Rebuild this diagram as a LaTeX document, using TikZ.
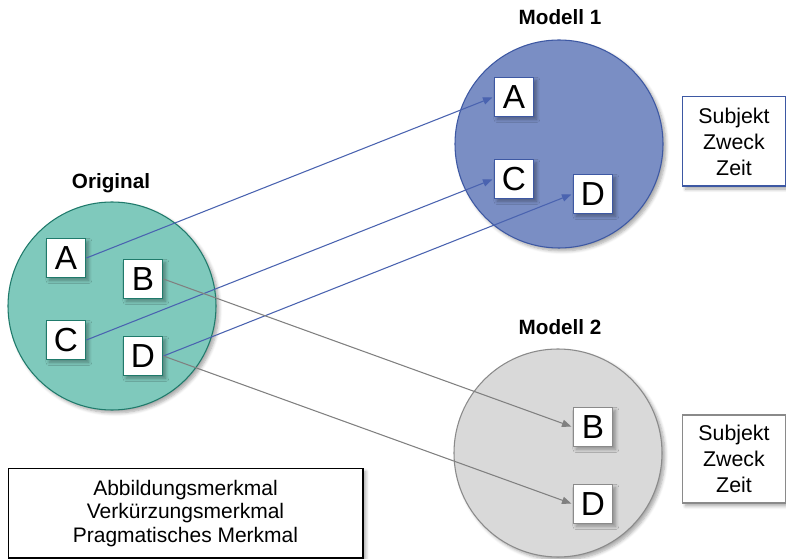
\documentclass[tikz,border=0pt]{standalone}
\usepackage{fontspec}
\setmainfont{Liberation Sans}
\usetikzlibrary{arrows.meta,shadows.blur}
\definecolor{tealfill}{HTML}{7FC9BC}
\definecolor{tealline}{HTML}{1F7A6B}
\definecolor{bluefill}{HTML}{7A8EC4}
\definecolor{blueline}{HTML}{3D58A3}
\definecolor{grayfill}{HTML}{D9D9D9}
\definecolor{grayline}{HTML}{8A8A8A}
\definecolor{bluearrow}{HTML}{4A63B0}
\definecolor{grayarrow}{HTML}{808080}
\tikzset{
  shade/.style={blur shadow={shadow xshift=2.2pt,shadow yshift=-2.2pt,shadow blur radius=2.5pt,shadow blur steps=6,shadow opacity=35}},
  world/.style={circle,minimum size=156pt,inner sep=0pt,line width=0.8pt,shade},
  letterbox/.style={draw=tealline,fill=white,line width=1.1pt,minimum width=29.5pt,minimum height=29pt,
    inner sep=0pt,font=\fontsize{25}{30}\selectfont,shade},
  title/.style={font=\fontsize{15.5}{18}\selectfont\bfseries},
  infobox/.style={draw,fill=white,line width=1pt,align=center,inner sep=0pt,shade},
  maparrow/.style={line width=0.8pt,shorten >=1pt,-{Triangle[length=7pt,width=5.5pt]}},
}
\begin{document}
\begin{tikzpicture}[x=0.75pt,y=-0.75pt]
\useasboundingbox (0,0) rectangle (786,559);

% the three worlds
\node[world,draw=tealline,fill=tealfill] (orig) at (112,306) {};
\node[world,draw=blueline,fill=bluefill] (mod1) at (559,144) {};
\node[world,draw=grayline,fill=grayfill] (mod2) at (558,453) {};

% titles
\node[title] (torig) at (111,183) {Original};
\node[title] (tmod1) at (560,17) {Modell 1};
\node[title] (tmod2) at (560,327) {Modell 2};

% elements of the original
\node[letterbox] (oA) at (66,258) {A};
\node[letterbox] (oB) at (143,279) {B};
\node[letterbox] (oC) at (66,340) {C};
\node[letterbox] (oD) at (143,356) {D};

% elements of model 1
\node[letterbox,draw=blueline] (m1A) at (514,97) {A};
\node[letterbox,draw=blueline] (m1C) at (514,179) {C};
\node[letterbox,draw=blueline] (m1D) at (593,194) {D};

% elements of model 2
\node[letterbox,draw=grayline] (m2B) at (593,427) {B};
\node[letterbox,draw=grayline] (m2D) at (593,504) {D};

% pragmatic attributes
\node[infobox,draw=blueline,minimum width=77pt,minimum height=67pt,
      font=\fontsize{16}{19.5}\selectfont] (prag1) at (734,141.5) {Subjekt\\Zweck\\Zeit};
\node[infobox,draw=grayline,minimum width=77pt,minimum height=66pt,
      font=\fontsize{16}{19.5}\selectfont] (prag2) at (734,459) {Subjekt\\Zweck\\Zeit};

% model attributes
\node[infobox,draw=black,minimum width=266pt,minimum height=67pt,
      font=\fontsize{15.75}{17.5}\selectfont] (attr) at (185.5,513.5)
      {Abbildungsmerkmal\\Verkürzungsmerkmal\\Pragmatisches Merkmal};

% mappings
\draw[maparrow,bluearrow] (oA.east) -- (m1A.west);
\draw[maparrow,bluearrow] (oC.east) -- (m1C.west);
\draw[maparrow,bluearrow] (oD.east) -- (m1D.west);
\draw[maparrow,grayarrow] (oB.east) -- (m2B.west);
\draw[maparrow,grayarrow] (oD.east) -- (m2D.west);
\end{tikzpicture}
\end{document}
